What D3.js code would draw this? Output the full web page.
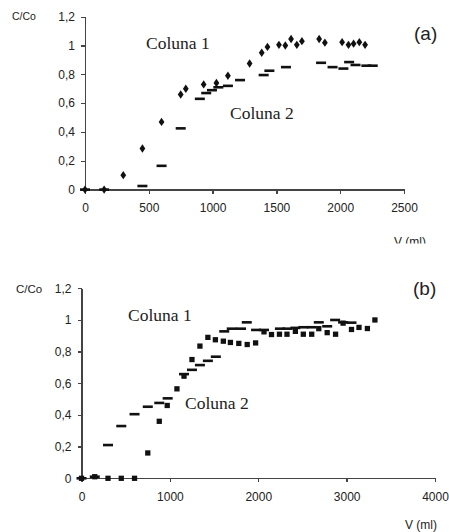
<!DOCTYPE html>
<html>
<head>
<meta charset="utf-8">
<script src="https://cdn.jsdelivr.net/npm/d3@7/dist/d3.min.js"></script>
<style>
  html, body { margin: 0; padding: 0; background: #fff; }
  svg { display: block; }
  .axis path, .axis line { stroke: #444; stroke-width: 1.3; shape-rendering: crispEdges; }
  .axis text { font-family: "Liberation Sans", Arial, sans-serif; font-size: 12px; fill: #222; }
  .lbl { font-family: "Liberation Sans", Arial, sans-serif; fill: #222; }
  .serif { font-family: "Liberation Serif", "Times New Roman", serif; fill: #222; }
</style>
</head>
<body>
<script>
// Panel (a): breakthrough curves, V (ml) vs C/Co
const aCol1V = [0, 150, 300, 450, 600, 750, 790, 930, 1030, 1120, 1290, 1385, 1430, 1520, 1570, 1615, 1660, 1700, 1835, 1880, 2015, 2065, 2105, 2150, 2195];
const aCol1C = [0, 0, 0.10, 0.285, 0.47, 0.66, 0.70, 0.73, 0.74, 0.79, 0.875, 0.95, 0.99, 1.005, 1.0, 1.045, 1.005, 1.03, 1.045, 1.02, 1.023, 1.005, 1.013, 1.023, 1.005];
const aCol2V = [0, 150, 450, 600, 750, 900, 950, 995, 1045, 1120, 1215, 1400, 1445, 1575, 1850, 1940, 2025, 2070, 2120, 2205, 2255];
const aCol2C = [0, 0, 0.025, 0.165, 0.425, 0.63, 0.67, 0.69, 0.71, 0.72, 0.76, 0.795, 0.825, 0.85, 0.88, 0.85, 0.84, 0.885, 0.865, 0.86, 0.86];
const aXTicks = [0, 500, 1000, 1500, 2000, 2500];

// Panel (b)
const bCol1V = [0, 150, 300, 450, 600, 750, 880, 970, 1080, 1160, 1250, 1340, 1430, 1515, 1605, 1685, 1780, 1875, 1970, 2065, 2150, 2240, 2325, 2420, 2510, 2605, 2685, 2780, 2875, 2960, 3055, 3140, 3235, 3320];
const bCol1C = [0, 0.01, 0, 0, 0, 0.16, 0.36, 0.46, 0.565, 0.645, 0.75, 0.835, 0.89, 0.875, 0.866, 0.858, 0.852, 0.845, 0.855, 0.925, 0.908, 0.91, 0.91, 0.928, 0.91, 0.91, 0.945, 0.92, 0.91, 0.98, 0.94, 0.953, 0.946, 1.0];
const bCol2V = [0, 150, 300, 450, 600, 750, 880, 975, 1160, 1250, 1340, 1430, 1520, 1615, 1700, 1805, 1870, 1975, 2065, 2245, 2330, 2420, 2510, 2605, 2685, 2780, 2870, 2960, 3055];
const bCol2C = [0, 0.01, 0.21, 0.33, 0.405, 0.452, 0.476, 0.505, 0.658, 0.685, 0.715, 0.742, 0.768, 0.928, 0.945, 0.945, 0.985, 0.937, 0.937, 0.945, 0.945, 0.95, 0.954, 0.954, 0.985, 0.96, 1.0, 0.985, 0.983];
const bXTicks = [0, 1000, 2000, 3000, 4000];

const yTicks = [0, 0.2, 0.4, 0.6, 0.8, 1, 1.2];
const fmtComma = d => String(d).replace('.', ',');

const svg = d3.select('body').append('svg')
  .attr('width', 449).attr('height', 532);

const defs = svg.append('defs');
defs.append('clipPath').attr('id', 'clipA')
  .append('rect').attr('x', 0).attr('y', 0).attr('width', 449).attr('height', 243.5);

function panel(cfg) {
  const g = svg.append('g');
  const x = d3.scaleLinear().domain(cfg.xDomain).range(cfg.xRange);
  const y = d3.scaleLinear().domain([0, 1.2]).range(cfg.yRange);

  g.append('g').attr('class', 'axis')
    .attr('transform', `translate(0,${cfg.yRange[0]})`)
    .call(d3.axisBottom(x).tickValues(cfg.xTicks).tickSize(4).tickSizeOuter(0).tickPadding(10).tickFormat(d => d));

  g.append('g').attr('class', 'axis')
    .attr('transform', `translate(${cfg.xRange[0]},0)`)
    .call(d3.axisLeft(y).tickValues(yTicks).tickSize(4).tickSizeOuter(0).tickPadding(6).tickFormat(fmtComma));

  // Coluna 2 : short horizontal dashes
  g.append('g').selectAll('rect')
    .data(d3.zip(cfg.c2V, cfg.c2C))
    .join('rect')
    .attr('x', d => x(d[0]) - 5)
    .attr('y', d => y(d[1]) - 1.3)
    .attr('width', 10).attr('height', 2.6)
    .attr('fill', '#111');

  // Coluna 1 : diamonds or squares
  const sym = d3.symbol().type(cfg.shape).size(cfg.size);
  g.append('g').selectAll('path')
    .data(d3.zip(cfg.c1V, cfg.c1C))
    .join('path')
    .attr('d', sym)
    .attr('transform', d => `translate(${x(d[0])},${y(d[1])})${cfg.shape === d3.symbolDiamond ? ' scale(1.2,1)' : ''}`)
    .attr('fill', '#111');

  return { g, x, y };
}

const A = panel({
  xDomain: [0, 2500], xRange: [85, 404], yRange: [189.6, 16.7],
  xTicks: aXTicks, c1V: aCol1V, c1C: aCol1C, c2V: aCol2V, c2C: aCol2C,
  shape: d3.symbolDiamond, size: 20
});

const B = panel({
  xDomain: [0, 4000], xRange: [81.5, 435], yRange: [478.3, 288.3],
  xTicks: bXTicks, c1V: bCol1V, c1C: bCol1C, c2V: bCol2V, c2C: bCol2C,
  shape: d3.symbolSquare, size: 28
});

// Labels for panel (a)
svg.append('text').attr('class', 'lbl').attr('x', 12).attr('y', 20).attr('font-size', 10.5).text('C/Co');
svg.append('text').attr('class', 'lbl').attr('x', 414).attr('y', 40).attr('font-size', 19).text('(a)');
svg.append('text').attr('class', 'serif').attr('x', 146).attr('y', 49).attr('font-size', 17.5).text('Coluna 1');
svg.append('text').attr('class', 'serif').attr('x', 230).attr('y', 119).attr('font-size', 17.5).text('Coluna 2');
svg.append('text').attr('class', 'lbl').attr('x', 394).attr('y', 246)
  .attr('font-size', 12).attr('clip-path', 'url(#clipA)').text('V (ml)');

// Labels for panel (b)
svg.append('text').attr('class', 'lbl').attr('x', 16).attr('y', 293).attr('font-size', 11.5).text('C/Co');
svg.append('text').attr('class', 'lbl').attr('x', 413).attr('y', 295).attr('font-size', 19).text('(b)');
svg.append('text').attr('class', 'serif').attr('x', 128).attr('y', 321).attr('font-size', 17.5).text('Coluna 1');
svg.append('text').attr('class', 'serif').attr('x', 185).attr('y', 409).attr('font-size', 17.5).text('Coluna 2');
svg.append('text').attr('class', 'lbl').attr('x', 405).attr('y', 529).attr('font-size', 12).text('V (ml)');
</script>
</body>
</html>
